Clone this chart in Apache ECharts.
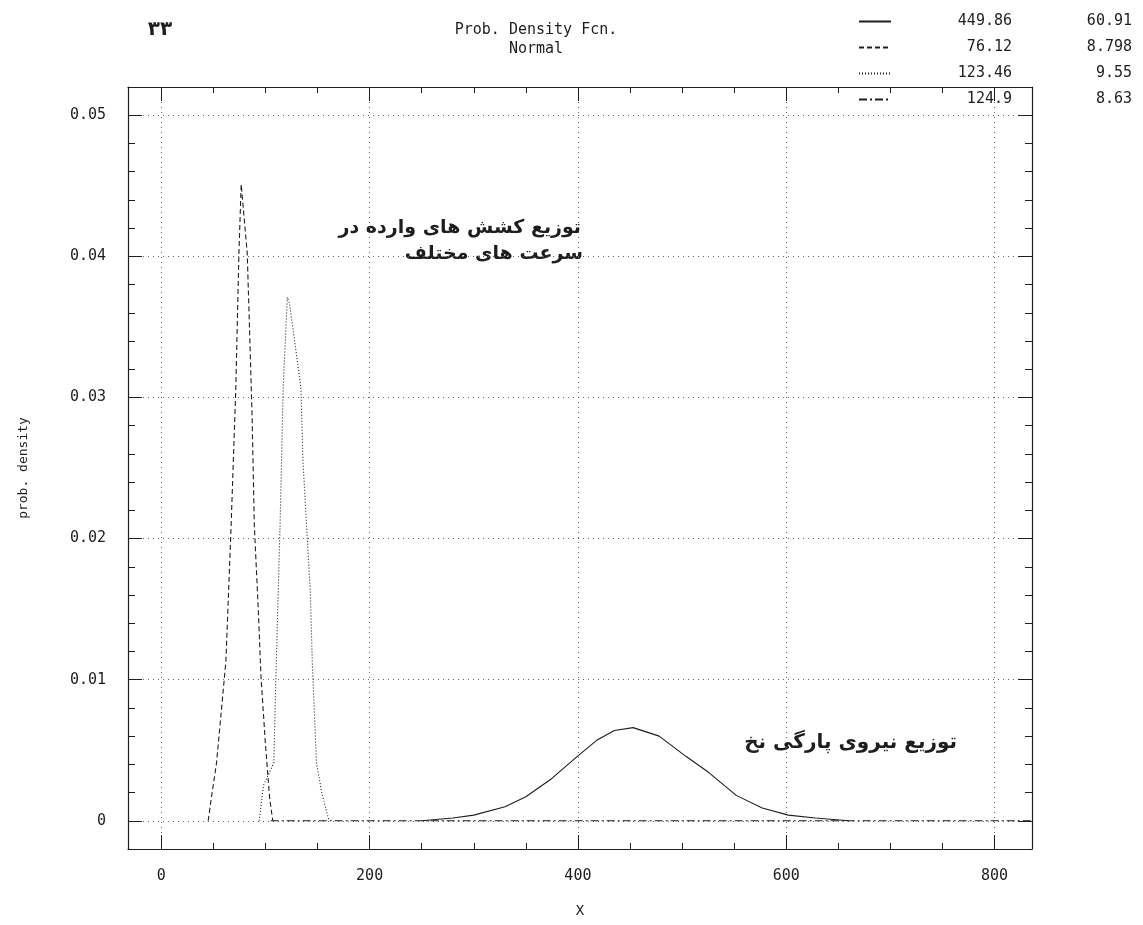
<!DOCTYPE html>
<html>
<head>
<meta charset="utf-8">
<script src="https://cdn.jsdelivr.net/npm/echarts@6/dist/echarts.min.js"></script>
<style>
html,body{margin:0;padding:0;background:#fff;}
#chart{width:1143px;height:925px;}
</style>
</head>
<body>
<div id="chart"></div>
<script>
// ---- data ----
const seriesMeans = ['449.86', '76.12', '123.46', '124.9'];
const seriesSDs = ['60.91', '8.798', '9.55', '8.63'];

const curveSolid = [[250,0],[280,0.0002],[300,0.0004],[330,0.0010],[350,0.0017],[375,0.0030],[400,0.0046],[418,0.0057],[435,0.0064],[453,0.0066],[478,0.0060],[504,0.00455],[526,0.0034],[552,0.0018],[577,0.0009],[602,0.0004],[628,0.0002],[660,0]];
const curveDashed = [[45,0],[48,0.0016],[53,0.0041],[62,0.0113],[67,0.0209],[71.5,0.0306],[74.5,0.0402],[76.7,0.0451],[82.5,0.0402],[84.8,0.0346],[87.2,0.0285],[89.3,0.0209],[93.2,0.0148],[95.7,0.0102],[99.8,0.0056],[104,0.0016],[107,0]];
const curveDotted = [[94,0],[98,0.0025],[108,0.0041],[110,0.0102],[114,0.0209],[117,0.0307],[121,0.0371],[123,0.0367],[128,0.0340],[134,0.0307],[136,0.0255],[139,0.0215],[143,0.0163],[145,0.0111],[149,0.0041],[154,0.0020],[161,0]];
const curveDashDot = [[105,0],[200,0],[400,0],[600,0],[800,0],[836,0]];

const xMajorTicks = [0, 200, 400, 600, 800];
const xMinorTicks = [0, 50, 100, 150, 200, 250, 300, 350, 400, 450, 500, 550, 600, 650, 700, 750, 800];
const yMajorTicks = [0, 0.01, 0.02, 0.03, 0.04, 0.05];
const yMinorTicks = [0, 0.002, 0.004, 0.006, 0.008, 0.01, 0.012, 0.014, 0.016, 0.018, 0.02, 0.022, 0.024, 0.026, 0.028, 0.03, 0.032, 0.034, 0.036, 0.038, 0.04, 0.042, 0.044, 0.046, 0.048, 0.05];

const titleLines = ['Prob. Density Fcn.', 'Normal'];
const pageNumber = '۳۳';
const noteTension = ['توزیع کشش های وارده در', 'سرعت های مختلف'];
const noteBreak = 'توزیع نیروی پارگی نخ';
const xName = 'X';
const yName = 'prob. density';

// ---- chart ----
const MONO = 'DejaVu Sans Mono';
const INK = '#1e1e1e';
const X_MIN = -32, X_MAX = 836, Y_MIN = -0.002, Y_MAX = 0.052;

function xAxisDef(pos, ticks, len, isMain) {
  const primary = isMain && pos === 'bottom';
  return {
    type: 'value', position: pos, min: X_MIN, max: X_MAX,
    axisLine: { show: isMain, onZero: false, lineStyle: { color: INK, width: 1.2 } },
    axisTick: { show: true, inside: true, length: len, customValues: ticks, lineStyle: { color: INK, width: 1 } },
    axisLabel: primary ? {
      show: true, customValues: xMajorTicks, margin: 20,
      fontFamily: MONO, fontSize: 15, color: INK,
      formatter: v => String(Math.round(v))
    } : { show: false },
    splitLine: primary ? { show: true, lineStyle: { color: '#666', type: [1, 4], width: 1 } } : { show: false },
    name: primary ? xName : '',
    nameLocation: 'middle', nameGap: 55,
    nameTextStyle: { fontFamily: MONO, fontSize: 14, color: INK }
  };
}
function yAxisDef(pos, ticks, len, isMain) {
  const primary = isMain && pos === 'left';
  return {
    type: 'value', position: pos, min: Y_MIN, max: Y_MAX,
    axisLine: { show: isMain, onZero: false, lineStyle: { color: INK, width: 1.2 } },
    axisTick: { show: true, inside: true, length: len, customValues: ticks, lineStyle: { color: INK, width: 1 } },
    axisLabel: primary ? {
      show: true, customValues: yMajorTicks, margin: 22,
      fontFamily: MONO, fontSize: 15, color: INK,
      formatter: v => (Math.abs(v) < 1e-9 ? '0' : v.toFixed(2))
    } : { show: false },
    splitLine: primary ? { show: true, lineStyle: { color: '#666', type: [1, 4], width: 1 } } : { show: false },
    name: primary ? yName : '',
    nameLocation: 'middle', nameGap: 98, nameRotate: 90,
    nameTextStyle: { fontFamily: MONO, fontSize: 13, color: INK }
  };
}

const lineTypes = ['solid', [5, 3], [1, 2], [8, 3, 2, 3]];
const curves = [curveSolid, curveDashed, curveDotted, curveDashDot];

const chart = echarts.init(document.getElementById('chart'), null, { renderer: 'canvas' });
chart.setOption({
  backgroundColor: '#ffffff',
  animation: false,
  title: {
    text: titleLines.join('\n'),
    left: 531, top: 16, textAlign: 'center',
    textStyle: { fontFamily: MONO, fontSize: 15, fontWeight: 'normal', color: INK, lineHeight: 19 }
  },
  legend: {
    orient: 'vertical', left: 853, top: 9,
    itemWidth: 32, itemHeight: 14, itemGap: 11,
    data: seriesMeans,
    itemStyle: { opacity: 0 },
    lineStyle: { inactiveWidth: 1 },
    formatter: name => '{a|' + name + '}{b|' + seriesSDs[seriesMeans.indexOf(name)] + '}',
    textStyle: {
      fontFamily: MONO, fontSize: 15, color: INK,
      rich: {
        a: { width: 116, align: 'right', fontFamily: MONO, fontSize: 15, color: INK, lineHeight: 16 },
        b: { width: 120, align: 'right', fontFamily: MONO, fontSize: 15, color: INK, lineHeight: 16 }
      }
    },
    selectedMode: false
  },
  grid: { left: 128, right: 111, top: 87, bottom: 76, containLabel: false },
  xAxis: [
    xAxisDef('bottom', xMajorTicks, 14, true),
    xAxisDef('bottom', xMinorTicks, 6, false),
    xAxisDef('top', xMajorTicks, 14, true),
    xAxisDef('top', xMinorTicks, 6, false)
  ],
  yAxis: [
    yAxisDef('left', yMajorTicks, 14, true),
    yAxisDef('left', yMinorTicks, 7, false),
    yAxisDef('right', yMajorTicks, 14, true),
    yAxisDef('right', yMinorTicks, 7, false)
  ],
  series: seriesMeans.map((m, i) => ({
    name: m, type: 'line', xAxisIndex: 0, yAxisIndex: 0,
    data: curves[i], showSymbol: false, symbol: 'none', smooth: false,
    lineStyle: { color: INK, width: 1.1, type: lineTypes[i] },
    itemStyle: { color: INK },
    z: 3
  })),
  graphic: [
    { type: 'text', x: 160, y: 30, style: { text: pageNumber, font: 'bold 20px "DejaVu Sans"', fill: INK, align: 'center', verticalAlign: 'middle' } },
    { type: 'text', x: 581, y: 228, style: { text: noteTension[0], font: 'bold 19px "DejaVu Sans"', fill: INK, align: 'right', verticalAlign: 'middle' } },
    { type: 'text', x: 583, y: 254, style: { text: noteTension[1], font: 'bold 19px "DejaVu Sans"', fill: INK, align: 'right', verticalAlign: 'middle' } },
    { type: 'text', x: 957, y: 743, style: { text: noteBreak, font: 'bold 20px "DejaVu Sans"', fill: INK, align: 'right', verticalAlign: 'middle' } }
  ]
});
</script>
</body>
</html>
